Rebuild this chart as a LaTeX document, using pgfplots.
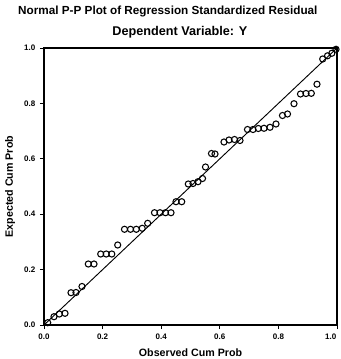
\documentclass[border=0pt]{standalone}
\usepackage{pgfplots}
\pgfplotsset{compat=1.18}
\usepackage{fontspec}
\setmainfont{Liberation Sans}
\begin{document}
\begin{tikzpicture}
\begin{axis}[
  name=ax,
  scale only axis,
  width=219.75pt, height=207.75pt,
  xmin=0, xmax=1, ymin=0, ymax=1,
  xtick={0,0.2,0.4,0.6,0.8}, ytick={0,0.2,0.4,0.6,0.8,1},
  extra x ticks={1},
  extra x tick style={xticklabel style={anchor=north east, xshift=3pt}},
  /pgf/number format/assume math mode=true,
  /pgf/number format/fixed, /pgf/number format/fixed zerofill, /pgf/number format/precision=1,
  tick label style={font=\bfseries\fontsize{6}{7}\selectfont},
  tick align=outside, tick pos=left,
  major tick length=3pt,
  axis line style={line width=0.9pt},
  every tick/.style={black, line width=0.6pt},
  xlabel={Observed Cum Prob}, ylabel={Expected Cum Prob},
  label style={font=\bfseries\fontsize{8}{9}\selectfont},
  xlabel style={yshift=6pt},
  ylabel style={yshift=0pt},
  clip=false,
]
\addplot[black, line width=0.7pt, no marks] coordinates {(0,0) (1,1)};
\addplot[only marks, mark=o, mark size=2.3pt, mark options={black, line width=0.8pt}] coordinates {
(0.0126,0.0083) (0.0341,0.0300) (0.0522,0.0397) (0.0717,0.0422)
(0.0922,0.1166) (0.1092,0.1173) (0.1297,0.1390) (0.1512,0.2202)
(0.1706,0.2202) (0.1935,0.2563) (0.2123,0.2563) (0.2314,0.2563)
(0.2515,0.2888) (0.2747,0.3455) (0.2952,0.3455) (0.3150,0.3455)
(0.3352,0.3491) (0.3539,0.3671) (0.3771,0.4054) (0.3959,0.4054)
(0.4147,0.4054) (0.4334,0.4054) (0.4505,0.4451) (0.4700,0.4451)
(0.4925,0.5090) (0.5085,0.5108) (0.5256,0.5173) (0.5410,0.5289)
(0.5512,0.5704) (0.5717,0.6191) (0.5836,0.6173) (0.6143,0.6606)
(0.6314,0.6679) (0.6502,0.6697) (0.6689,0.6661) (0.6945,0.7058)
(0.7133,0.7058) (0.7314,0.7094) (0.7509,0.7101) (0.7713,0.7137)
(0.7918,0.7256) (0.8140,0.7563) (0.8311,0.7617) (0.8532,0.7989)
(0.8754,0.8339) (0.8942,0.8357) (0.9123,0.8364) (0.9317,0.8693)
(0.9512,0.9603) (0.9676,0.9718) (0.9823,0.9809) (0.9966,0.9953)
};
\end{axis}
\node[font=\bfseries\fontsize{8.8}{10}\selectfont, anchor=center] at ([xshift=-17pt,yshift=27pt]ax.north) {Normal P-P Plot of Regression Standardized Residual};
\node[font=\bfseries\fontsize{9.5}{10}\selectfont, anchor=center] at ([xshift=-8pt,yshift=12pt]ax.north) {Dependent Variable: Y};
\pgfresetboundingbox
\path ([xshift=-33pt,yshift=-25.5pt]ax.south west) rectangle ([xshift=2.25pt,yshift=36pt]ax.north east);
\end{tikzpicture}
\end{document}
